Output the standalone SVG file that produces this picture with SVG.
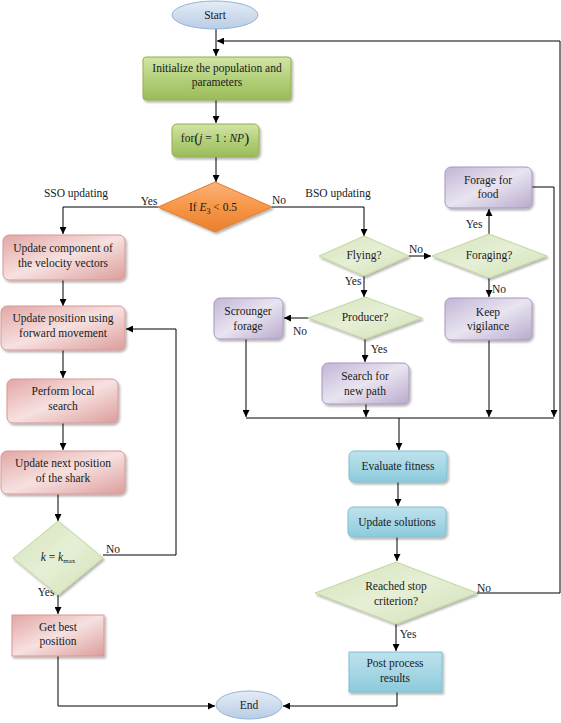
<svg xmlns="http://www.w3.org/2000/svg" width="561" height="723" viewBox="0 0 561 723">
<defs>
<linearGradient id="gGreen" x1="0" y1="0" x2="0" y2="1"><stop offset="0" stop-color="#d2e4a8"/><stop offset="0.5" stop-color="#b3d07a"/><stop offset="1" stop-color="#9bbb59"/></linearGradient>
<linearGradient id="gLGreen" x1="0" y1="0" x2="1" y2="1"><stop offset="0" stop-color="#d3e3b8"/><stop offset="0.5" stop-color="#e6efd6"/><stop offset="1" stop-color="#d0e0b2"/></linearGradient>
<linearGradient id="gOrange" x1="0" y1="0" x2="0" y2="1"><stop offset="0" stop-color="#f9b27c"/><stop offset="0.5" stop-color="#f79646"/><stop offset="1" stop-color="#e8802f"/></linearGradient>
<linearGradient id="gPink" x1="0" y1="0" x2="1" y2="1"><stop offset="0" stop-color="#e2a6a4"/><stop offset="0.5" stop-color="#f6e1e0"/><stop offset="1" stop-color="#dc9d9b"/></linearGradient>
<linearGradient id="gPurple" x1="0" y1="0" x2="1" y2="1"><stop offset="0" stop-color="#c2b5d6"/><stop offset="0.5" stop-color="#e9e4f0"/><stop offset="1" stop-color="#b9aacd"/></linearGradient>
<linearGradient id="gBlue" x1="0" y1="0" x2="0" y2="1"><stop offset="0" stop-color="#bde2ec"/><stop offset="0.5" stop-color="#a6d7e5"/><stop offset="1" stop-color="#8ccadb"/></linearGradient>
<linearGradient id="gEll" x1="0" y1="0" x2="0" y2="1"><stop offset="0" stop-color="#e4ecf6"/><stop offset="1" stop-color="#b9cde5"/></linearGradient>
<filter id="sh" x="-10%" y="-10%" width="130%" height="140%"><feDropShadow dx="1.5" dy="2" stdDeviation="1.2" flood-color="#000" flood-opacity="0.3"/></filter>
<marker id="ar" viewBox="0 0 10 10" refX="10" refY="5" markerWidth="7" markerHeight="7" markerUnits="userSpaceOnUse" orient="auto"><path d="M0,0 L10,5 L0,10 z" fill="#000"/></marker>
</defs>
<style>
text{font-family:"Liberation Serif","Times New Roman",serif;font-size:11.5px;fill:#1a1a1a;text-anchor:middle}
.lab{font-size:11.5px}
.green{fill:url(#gGreen);stroke:#8fb04d;stroke-width:1;filter:url(#sh)}
.lgreen{fill:url(#gLGreen);stroke:#c3d69b;stroke-width:1;filter:url(#sh)}
.orange{fill:url(#gOrange);stroke:#e47c2b;stroke-width:1;filter:url(#sh)}
.pink{fill:url(#gPink);stroke:#d99694;stroke-width:1;filter:url(#sh)}
.purple{fill:url(#gPurple);stroke:#a897c0;stroke-width:1;filter:url(#sh)}
.blue{fill:url(#gBlue);stroke:#7fc0d3;stroke-width:1;filter:url(#sh)}
.ell{fill:url(#gEll);stroke:#95b3d7;stroke-width:1}
.c{fill:none;stroke:#000;stroke-width:1}
.ca{fill:none;stroke:#000;stroke-width:1;marker-end:url(#ar)}
</style>
<rect width="561" height="723" fill="#fff"/>

<g id="connectors">
<path class="ca" d="M216 29 V56"/>
<path class="ca" d="M477 593 H560 V41 H217"/>
<path class="ca" d="M216 100 V123"/>
<path class="ca" d="M216 157 V182"/>
<path class="ca" d="M158 207 H63 V234"/>
<path class="ca" d="M272 207 H364 V236"/>
<path class="ca" d="M63 280 V306"/>
<path class="ca" d="M63 350 V378"/>
<path class="ca" d="M63 423 V450"/>
<path class="ca" d="M58 494 V521"/>
<path class="ca" d="M103 555 H176 V329 H126"/>
<path class="ca" d="M58 595 V614"/>
<path class="ca" d="M58 656 V706 H215"/>
<path class="ca" d="M409 256 H431"/>
<path class="ca" d="M489 234 V209"/>
<path class="ca" d="M489 278 V297"/>
<path class="ca" d="M364 276 V297"/>
<path class="ca" d="M308 318 H284"/>
<path class="ca" d="M365 339 V362"/>
<path class="ca" d="M532 187 H554 V417"/>
<path class="ca" d="M246 339 V417"/>
<path class="ca" d="M366 404 V417"/>
<path class="ca" d="M489 340 V417"/>
<path class="c" d="M246 418 H554"/>
<path class="ca" d="M399 418 V450"/>
<path class="ca" d="M398 482 V506"/>
<path class="ca" d="M397 537 V561"/>
<path class="ca" d="M396 624 V651"/>
<path class="ca" d="M397 692 V706 H283"/>
<text x="149" y="205">Yes</text>
<text x="279" y="204">No</text>
<text x="76" y="197">SSO updating</text>
<text x="338" y="197">BSO updating</text>
<text x="113" y="553">No</text>
<text x="46" y="596">Yes</text>
<text x="474" y="228">Yes</text>
<text x="416" y="253">No</text>
<text x="353" y="285">Yes</text>
<text x="499" y="293">No</text>
<text x="300" y="335">No</text>
<text x="379" y="353">Yes</text>
<text x="484" y="592">No</text>
<text x="408" y="638">Yes</text>
</g>

<g id="start"><ellipse class="ell" cx="215" cy="15" rx="43" ry="14"/><text x="215" y="19">Start</text></g>
<g id="init"><rect class="green" x="143" y="57" width="148" height="43" rx="3"/><text x="217" y="72">Initialize the population and</text><text x="217" y="86">parameters</text></g>
<g id="forloop"><rect class="green" x="172" y="124" width="87" height="33" rx="5"/><text x="215" y="142">for<tspan font-size="15" dy="1">(</tspan><tspan font-style="italic" dy="-1">j</tspan> = 1 : <tspan font-style="italic">NP</tspan><tspan font-size="15" dy="1">)</tspan></text></g>
<g id="decision-e3"><path class="orange" d="M215 182 L272 207 L215 232 L158 207 Z"/><text x="213" y="211">If <tspan font-style="italic">E</tspan><tspan font-size="8" dy="3">3</tspan><tspan dy="-3"> &lt; 0.5</tspan></text></g>
<g id="update-velocity"><rect class="pink" x="3" y="235" width="122" height="45" rx="6"/><text x="63" y="252">Update component of</text><text x="63" y="267">the velocity vectors</text></g>
<g id="update-position"><rect class="pink" x="1" y="306" width="124" height="44" rx="6"/><text x="63" y="322">Update position using</text><text x="63" y="337">forward movement</text></g>
<g id="local-search"><rect class="pink" x="7" y="379" width="111" height="44" rx="6"/><text x="63" y="395">Perform local</text><text x="63" y="410">search</text></g>
<g id="update-next"><rect class="pink" x="1" y="451" width="124" height="43" rx="6"/><text x="63" y="467">Update next position</text><text x="63" y="482">of the shark</text></g>
<g id="decision-k"><path class="lgreen" d="M58 521 L103 558 L58 595 L13 558 Z"/><text x="58" y="561"><tspan font-style="italic">k</tspan> = <tspan font-style="italic">k</tspan><tspan font-size="7" dy="2">max</tspan></text></g>
<g id="best-position"><rect class="pink" x="12" y="615" width="92" height="41"/><text x="58" y="631">Get best</text><text x="58" y="645">position</text></g>
<g id="end"><ellipse class="ell" cx="249" cy="705" rx="33" ry="14"/><text x="249" y="709">End</text></g>
<g id="flying"><path class="lgreen" d="M364 236 L409 256 L364 276 L319 256 Z"/><text x="364" y="259">Flying?</text></g>
<g id="foraging"><path class="lgreen" d="M489 234 L547 256 L489 278 L432 256 Z"/><text x="489" y="259">Foraging?</text></g>
<g id="forage-food"><rect class="purple" x="445" y="167" width="87" height="41" rx="6"/><text x="488" y="184">Forage for</text><text x="488" y="198">food</text></g>
<g id="keep-vigilance"><rect class="purple" x="445" y="298" width="87" height="42" rx="6"/><text x="488" y="316">Keep</text><text x="488" y="330">vigilance</text></g>
<g id="producer"><path class="lgreen" d="M365 297 L422 318 L365 339 L308 318 Z"/><text x="365" y="321">Producer?</text></g>
<g id="scrounger"><rect class="purple" x="214" y="298" width="69" height="41" rx="6"/><text x="248" y="315">Scrounger</text><text x="248" y="330">forage</text></g>
<g id="search-path"><rect class="purple" x="322" y="363" width="87" height="41" rx="6"/><text x="365" y="380">Search for</text><text x="365" y="395">new path</text></g>
<g id="evaluate"><rect class="blue" x="349" y="451" width="98" height="31" rx="5"/><text x="398" y="470">Evaluate fitness</text></g>
<g id="update-solutions"><rect class="blue" x="348" y="507" width="98" height="30" rx="5"/><text x="397" y="526">Update solutions</text></g>
<g id="stop-criterion"><path class="lgreen" d="M396 562 L477 593 L396 624 L315 593 Z"/><text x="396" y="590">Reached stop</text><text x="396" y="605">criterion?</text></g>
<g id="post-process"><rect class="blue" x="349" y="652" width="93" height="40"/><text x="395" y="667">Post process</text><text x="395" y="682">results</text></g>
</svg>
